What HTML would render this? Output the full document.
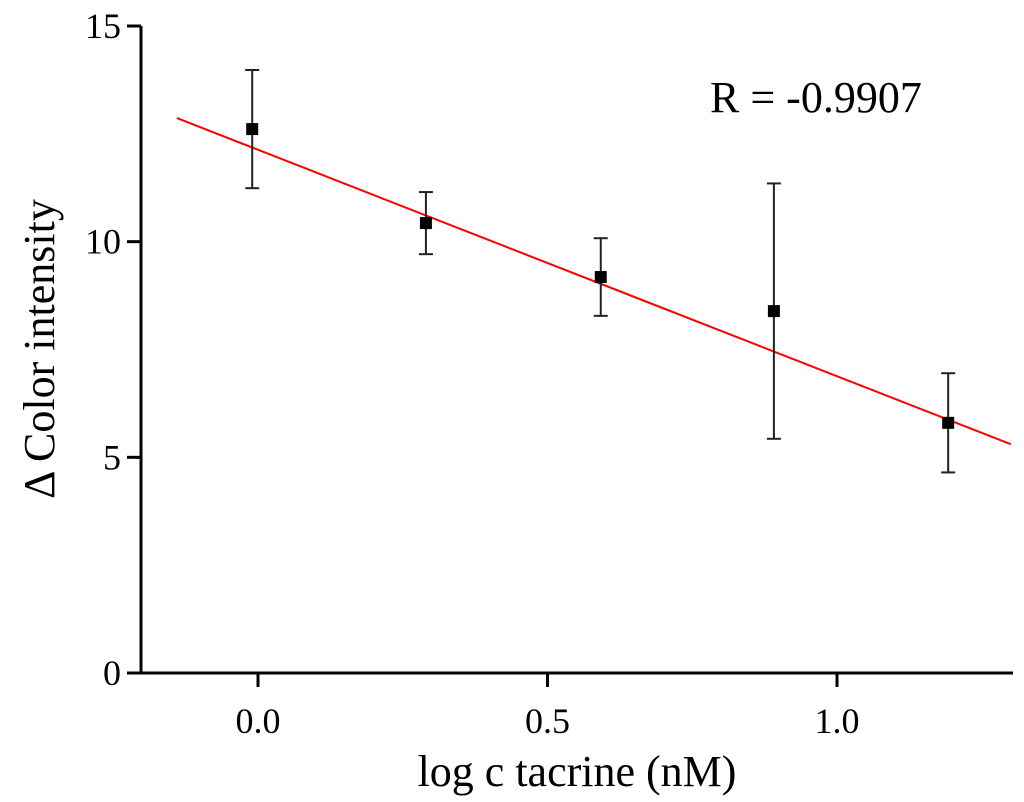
<!DOCTYPE html>
<html><head><meta charset="utf-8"><style>
html,body{margin:0;padding:0;background:#fff;}
svg{display:block;font-family:"Liberation Serif",serif;}
</style></head><body>
<svg id="chart" width="1024" height="802" viewBox="0 0 1024 802" xmlns="http://www.w3.org/2000/svg">
<g id="axes"></g>
<g id="fit"></g>
<g id="pts"></g>
<text x="710" y="112" font-size="44">R = -0.9907</text>
<text x="577" y="786" font-size="44" text-anchor="middle">log c tacrine (nM)</text>
<text transform="translate(54,349) rotate(-90)" font-size="44" text-anchor="middle">Δ Color intensity</text>
</svg>
<script>
const xData=[-0.010,0.290,0.592,0.891,1.192];
const yData=[12.61,10.43,9.18,8.39,5.80];
const yErr=[1.37,0.72,0.90,2.96,1.15];
const fitSlope=-5.25, fitIntercept=12.13;
const fitRange=[-0.14,1.3];
const xTicks=[0.0,0.5,1.0];
const xTickLabels=["0.0","0.5","1.0"];
const yTicks=[0,5,10,15];
const yTickLabels=["0","5","10","15"];
const X0=141,X1=1013,Y0=673,Y1=26;
const ymin=0,ymax=15;
function sx(v){return 258+v*579;}
function sy(v){return Y0-(v-ymin)*(Y0-Y1)/(ymax-ymin);}
const NS="http://www.w3.org/2000/svg";
function mk(tag,attrs,parent){const e=document.createElementNS(NS,tag);for(const k in attrs)e.setAttribute(k,attrs[k]);parent.appendChild(e);return e;}
const axes=document.getElementById('axes');
let e=mk('line',{x1:X0-2,y1:Y0,x2:X1,y2:Y0,stroke:'#000','stroke-width':3},axes);


e=mk('line',{x1:X0,y1:Y0+1,x2:X0,y2:Y1,stroke:'#000','stroke-width':3},axes);


xTicks.forEach((t,i)=>{
 let l=mk('line',{x1:sx(t),y1:Y0,x2:sx(t),y2:Y0+14,stroke:'#000','stroke-width':3},axes);
 
 
 let tx=mk('text',{x:sx(t),y:Y0+60,'font-size':36,'text-anchor':'middle'},axes);
 tx.textContent=xTickLabels[i];
 
 
});
yTicks.forEach((t,i)=>{
 let l=mk('line',{x1:X0-14,y1:sy(t),x2:X0,y2:sy(t),stroke:'#000','stroke-width':3},axes);
 
 
 let tx=mk('text',{x:X0-20,y:sy(t)+12,'font-size':36,'text-anchor':'end'},axes);
 tx.textContent=yTickLabels[i];
 
 
});
const fit=document.getElementById('fit');
e=mk('line',{x1:sx(fitRange[0]),y1:sy(fitSlope*fitRange[0]+fitIntercept),x2:sx(fitRange[1]),y2:sy(fitSlope*fitRange[1]+fitIntercept),stroke:'#ff0000','stroke-width':2},fit);


const pts=document.getElementById('pts');
xData.forEach((x,i)=>{
 const cx=sx(x),cy=sy(yData[i]),t=sy(yData[i]+yErr[i]),b=sy(yData[i]-yErr[i]);
 let g=mk('g',{},pts);
 
 
 mk('line',{x1:cx,y1:t,x2:cx,y2:b,stroke:'#222','stroke-width':2},g);
 mk('line',{x1:cx-7,y1:t,x2:cx+7,y2:t,stroke:'#222','stroke-width':2},g);
 mk('line',{x1:cx-7,y1:b,x2:cx+7,y2:b,stroke:'#222','stroke-width':2},g);
 let r=mk('rect',{x:cx-6,y:cy-6,width:12,height:12,fill:'#000'},pts);
 
 
});
</script>
</body></html>
